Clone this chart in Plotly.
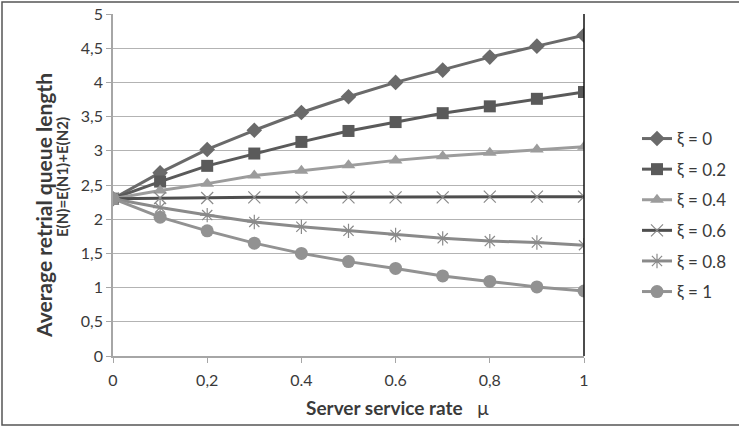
import plotly.graph_objects as go

mu = [0, 0.1, 0.2, 0.3, 0.4, 0.5, 0.6, 0.7, 0.8, 0.9, 1.0]
xi_0 = [2.30, 2.68, 3.02, 3.30, 3.56, 3.79, 4.00, 4.18, 4.37, 4.53, 4.69]
xi_02 = [2.30, 2.55, 2.78, 2.96, 3.13, 3.29, 3.42, 3.55, 3.65, 3.76, 3.86]
xi_04 = [2.30, 2.42, 2.52, 2.64, 2.71, 2.79, 2.86, 2.92, 2.97, 3.02, 3.06]
xi_06 = [2.30, 2.31, 2.31, 2.32, 2.32, 2.32, 2.32, 2.32, 2.33, 2.33, 2.33]
xi_08 = [2.30, 2.17, 2.06, 1.96, 1.89, 1.83, 1.77, 1.72, 1.68, 1.66, 1.62]
xi_1 = [2.30, 2.03, 1.83, 1.65, 1.50, 1.38, 1.28, 1.17, 1.09, 1.01, 0.95]

series_names = ["ξ = 0", "ξ = 0.2", "ξ = 0.4", "ξ = 0.6", "ξ = 0.8", "ξ = 1"]
x_tickvals = [0, 0.2, 0.4, 0.6, 0.8, 1]
x_ticktext = ["0", "0,2", "0.4", "0.6", "0,8", "1"]
y_tickvals = [0, 0.5, 1, 1.5, 2, 2.5, 3, 3.5, 4, 4.5, 5]
y_ticktext = ["0", "0,5", "1", "1,5", "2", "2,5", "3", "3,5", "4", "4,5", "5"]

FONT = "Lato, Open Sans, sans-serif"
TXT = "#3a3a3a"

styles = [
    dict(line=dict(color="#6a6a6a", width=3), marker=dict(symbol="diamond", size=12, color="#6a6a6a")),
    dict(line=dict(color="#5a5a5a", width=3), marker=dict(symbol="square", size=12, color="#5a5a5a")),
    dict(line=dict(color="#9c9c9c", width=3), marker=dict(symbol="triangle-up", size=12, color="#9c9c9c")),
    dict(line=dict(color="#4e4e4e", width=3), marker=dict(symbol="x-thin-open", size=12, color="#8a8a8a", line=dict(width=1.2, color="#8a8a8a"))),
    dict(line=dict(color="#8a8a8a", width=3), marker=dict(symbol="asterisk-open", size=12, color="#8a8a8a", line=dict(width=1.2, color="#8a8a8a"))),
    dict(line=dict(color="#929292", width=3), marker=dict(symbol="circle", size=13, color="#929292")),
]

all_y = [xi_0, xi_02, xi_04, xi_06, xi_08, xi_1]

fig = go.Figure()
for i, (name, ys, st) in enumerate(zip(series_names, all_y, styles)):
    fig.add_trace(go.Scatter(x=mu, y=ys, mode="lines+markers", name=name,
                             legendgroup=f"g{i}", **st))

W, H = 739, 427
L, R, T, B = 113, 584, 14, 356

def px_x(p):
    return (p - L) / (R - L)

def px_y(p):
    return (B - p) / (B - T)

fig.update_layout(
    width=W, height=H,
    margin=dict(l=L, r=W - R, t=T, b=H - B, autoexpand=False),
    paper_bgcolor="white", plot_bgcolor="white",
    font=dict(family=FONT, size=16, color=TXT),
    showlegend=True,
    legend=dict(x=px_x(637), y=px_y(121), xanchor="left", yanchor="top",
                font=dict(size=17, color=TXT), tracegroupgap=5.5,
                itemwidth=30, bgcolor="rgba(0,0,0,0)"),
    xaxis=dict(range=[0, 1], tickvals=x_tickvals, ticktext=x_ticktext,
               showgrid=False, zeroline=False, showline=True, linecolor="#a6a6a6",
               linewidth=1.5, ticks="outside", ticklen=5, tickcolor="#a6a6a6",
               ticklabelstandoff=4,
               tickfont=dict(size=16, color=TXT)),
    yaxis=dict(range=[0, 5], tickvals=y_tickvals, ticktext=y_ticktext,
               showgrid=True, gridcolor="#b3b3b3", gridwidth=1.2, zeroline=False,
               showline=True, linecolor="#a6a6a6", linewidth=1.5,
               ticks="outside", ticklen=5, tickcolor="#a6a6a6",
               tickfont=dict(size=16, color=TXT)),
)

# right black border line of plot area
fig.add_shape(type="line", xref="paper", yref="paper", x0=1, x1=1, y0=0, y1=1,
              line=dict(color="#111111", width=1.5))
# outer chart border
fig.add_shape(type="rect", xref="paper", yref="paper",
              x0=px_x(2), x1=px_x(745), y0=px_y(425), y1=px_y(2),
              line=dict(color="#555555", width=1.5), layer="above")

fig.add_annotation(text="<b>Server service rate</b>   μ", xref="paper", yref="paper",
                   x=px_x(397), y=px_y(407), showarrow=False,
                   xanchor="center", yanchor="middle",
                   font=dict(size=19, color=TXT, family=FONT))
fig.add_annotation(text="<b>Average retrial queue length</b>", xref="paper", yref="paper",
                   x=px_x(43), y=px_y(206), showarrow=False, textangle=-90,
                   xanchor="center", yanchor="middle",
                   font=dict(size=21, color=TXT, family=FONT))
fig.add_annotation(text="<b>E(N)=E(N1)+E(N2)</b>", xref="paper", yref="paper",
                   x=px_x(62), y=px_y(177), showarrow=False, textangle=-90,
                   xanchor="center", yanchor="middle",
                   font=dict(size=15, color=TXT, family=FONT))

fig.write_html("out.html", post_script="document.body.style.margin='0px';",
               config={"displayModeBar": False})
